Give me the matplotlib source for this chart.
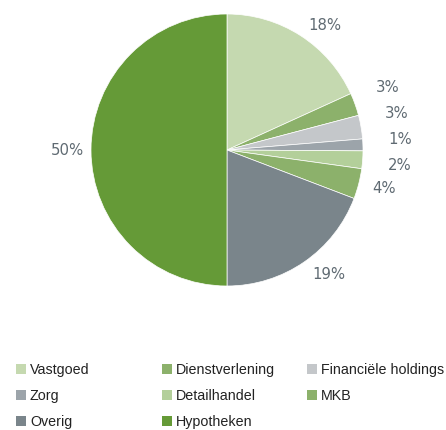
import numpy as np
import matplotlib
matplotlib.use("Agg")
import matplotlib.pyplot as plt
from matplotlib.patches import Rectangle

categories = ["Vastgoed", "Dienstverlening", "Financiële holdings", "Zorg",
              "Detailhandel", "MKB", "Overig", "Hypotheken"]
values = [18.2, 2.7, 2.8, 1.4, 2.1, 3.6, 19.2, 50.0]
colors = ["#c5d9b0", "#8cb16b", "#c4c7ca", "#9ca4aa",
          "#b3cf9a", "#8cb16b", "#7a858b", "#659a37"]

W, H = 446, 431
CX, CY, R = 227, 151, 136  # pie centre / radius in pixels

fig = plt.figure(figsize=(W / 100, H / 100), dpi=100)
ax = fig.add_axes([0, 0, 1, 1])
ax.axis("off")

wedges, _ = ax.pie(values, colors=colors, startangle=90, counterclock=False,
                   radius=1, center=(0, 0),
                   wedgeprops=dict(edgecolor="white", linewidth=0.5))
ax.set_xlim(-CX / R, (W - CX) / R)
ax.set_ylim(-(H - CY) / R, CY / R)
ax.set_aspect("auto")

# label positions
total = sum(values)
labels = []
for w, v in zip(wedges, values):
    ang = np.deg2rad((w.theta1 + w.theta2) / 2)
    rl = 1.1 if np.cos(ang) > 0 else 1.05
    x, y = rl * np.cos(ang), rl * np.sin(ang)
    labels.append([x, y, f"{v / total * 100:.0f}%"])

# spread crowded right-side labels
right = sorted([l for l in labels if l[0] > 0], key=lambda l: -l[1])
gap = 26 / R
groups = [[right[0]]]
for l in right[1:]:
    groups[-1].append(l) if groups[-1][-1][1] - l[1] < gap else groups.append([l])
for g in groups:
    if len(g) > 1:
        mean = np.mean([l[1] for l in g]) + 0.05
        n = len(g)
        for i, l in enumerate(g):
            l[1] = mean + gap * ((n - 1) / 2 - i)
            l[0] = np.sqrt(1.19 ** 2 - l[1] ** 2)

for x, y, t in labels:
    ax.text(x, y, t, ha="left" if x > 0 else "right", va="center",
            fontsize=10.7, color="#5f6a72", family="DejaVu Sans")

# legend (row-major grid, 3 columns)
col_x = [16, 162, 307]
row_y = [370, 396, 422]
for i, (c, col) in enumerate(zip(categories, colors)):
    r, k = divmod(i, 3)
    px, py = col_x[k], row_y[r]
    fig.patches.append(Rectangle((px / W, 1 - (py + 5) / H), 10 / W, 10 / H,
                                 transform=fig.transFigure, facecolor=col,
                                 edgecolor="none"))
    fig.text((px + 14) / W, 1 - py / H, c, ha="left", va="center",
             fontsize=10.3, color="#222222", family="Liberation Sans")

fig.savefig("out.png", dpi=100)
